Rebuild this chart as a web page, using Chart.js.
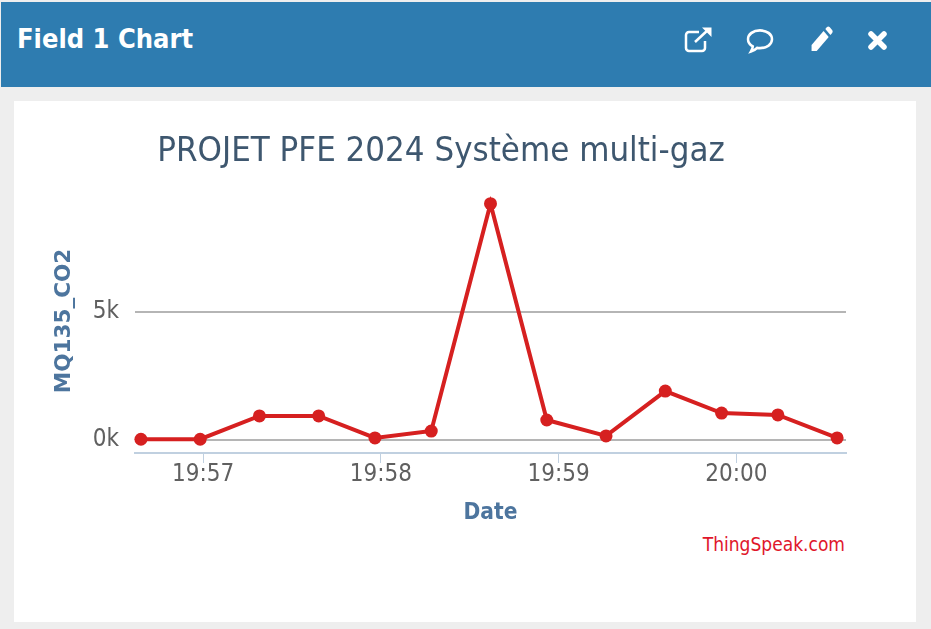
<!DOCTYPE html>
<html>
<head>
<meta charset="utf-8">
<title>Field 1 Chart</title>
<script src="https://cdn.jsdelivr.net/npm/chart.js@4"></script>
<style>
  html, body { margin: 0; padding: 0; }
  body { width: 931px; height: 629px; background: #eeeeee; position: relative; overflow: hidden; }
  .cabecera { position: absolute; left: 1px; top: 2px; width: 930px; height: 85px; background: #2e7cb0; }
  .cabecera h3 { position: absolute; left: 16px; top: 20px; margin: 0; color: #fff; font: bold 27px "DejaVu Sans Condensed", sans-serif; line-height: 34px; }
  .cabecera svg { position: absolute; top: 24px; }
  .tarjeta { position: absolute; left: 14px; top: 101px; width: 902px; height: 521px; background: #fff; }
  .grafico { position: absolute; left: 0; top: 0; width: 854px; height: 426px; }
  .credito { position: absolute; right: 71px; top: 433px; color: #e0162b; font: 19px "DejaVu Sans Condensed", sans-serif; line-height: 20px; }
</style>
</head>
<body>
<div class="cabecera">
  <h3>Field 1 Chart</h3>
  <svg style="left:682px" width="32" height="28" viewBox="0 0 32 28" fill="none" stroke="#fff" stroke-width="2.500">
    <path d="M16 6H6a3 3 0 0 0-3 3v13a3 3 0 0 0 3 3h13a3 3 0 0 0 3-3v-7"/>
    <path d="M12 16L26 3"/>
    <path d="M19 1.500h9.500v9.500z" fill="#fff" stroke="none"/>
  </svg>
  <svg style="left:744px" width="32" height="31" viewBox="0 0 32 28" preserveAspectRatio="none" fill="none" stroke="#fff" stroke-width="2.500">
    <path d="M15 4c7 0 12 3.500 12 8s-5 8-12 8c-1 0-2 0-3-.2-2 1.800-4 2.700-6 3.200 1-1.500 1.700-3 1.800-4.600C5 17 3 14.700 3 12c0-4.500 5-8 12-8z"/>
  </svg>
  <svg style="left:808px" width="24" height="28" viewBox="0 0 28 28" preserveAspectRatio="none" fill="#fff">
    <path d="M3 19L17 5l6 6L9 25H3z"/>
    <path d="M19 3l2-2c1-.8 2-.8 3 0l3 3c.8 1 .8 2 0 3l-2 2z"/>
  </svg>
  <svg style="left:866px" width="22" height="28" viewBox="0 0 22 28" fill="none" stroke="#fff" stroke-width="5.500" stroke-linecap="round">
    <path d="M4 8l13 13M17 8L4 21"/>
  </svg>
</div>
<div class="tarjeta">
  <div class="grafico"><canvas id="graficoCampo"></canvas></div>
  <div class="credito">ThingSpeak.com</div>
</div>
<script>
const titulo = 'PROJET PFE 2024 Système multi-gaz';
const tituloY = 'MQ135_CO2';
const tituloX = 'Date';

const horas = ['19:56:39', '19:56:59', '19:57:19', '19:57:39', '19:57:58', '19:58:17', '19:58:37',
  '19:58:56', '19:59:16', '19:59:36', '19:59:55', '20:00:14', '20:00:34'];
const valores = [30, 30, 940, 940, 80, 350, 9230, 780, 160, 1910, 1050, 980, 80];

const ticksX = ['19:57', '19:58', '19:59', '20:00'];
const ticksY = [0, 5000];
const etiquetasY = ['0k', '5k'];

const inicioX = '19:56:37';
const finX = '20:00:37';
const minY = -508;
const maxY = 9805;

// Pasa "hh:mm" o "hh:mm:ss" a segundos
function segundos(hora) {
  const p = hora.split(':').map(Number);
  return p[0] * 3600 + p[1] * 60 + (p[2] || 0);
}

const fuente = '"DejaVu Sans Condensed", "DejaVu Sans", sans-serif';
const ctx = document.getElementById('graficoCampo').getContext('2d');
new Chart(ctx, {
  type: 'line',
  data: {
    datasets: [{
      data: horas.map((h, i) => ({ x: segundos(h), y: valores[i] })),
      borderColor: '#d62020',
      backgroundColor: '#d62020',
      borderWidth: 4,
      pointRadius: 6.500,
      pointBorderWidth: 0,
      tension: 0,
      clip: false
    }]
  },
  options: {
    responsive: true,
    maintainAspectRatio: false,
    animation: false,
    layout: { padding: { left: 22, right: 22, top: 0, bottom: 0 } },
    plugins: {
      legend: { display: false },
      tooltip: { enabled: false },
      title: {
        display: true,
        text: titulo,
        color: '#3e576f',
        font: { family: fuente, size: 34.500, weight: 'normal', lineHeight: 1.2 },
        padding: { top: 30, bottom: 16.600 }
      }
    },
    scales: {
      x: {
        type: 'linear',
        min: segundos(inicioX),
        max: segundos(finX),
        afterBuildTicks: axis => { axis.ticks = ticksX.map(t => ({ value: segundos(t) })); },
        afterFit: axis => { axis.height = 74; },
        ticks: {
          color: '#606060',
          font: { family: fuente, size: 24 },
          padding: -3,
          maxRotation: 0,
          autoSkip: false,
          callback: v => ticksX.find(t => segundos(t) === v)
        },
        grid: { drawOnChartArea: false, tickLength: 10, tickColor: '#c0d0e0', tickWidth: 1 },
        border: { color: '#c0d0e0', width: 2 },
        title: {
          display: true,
          text: tituloX,
          color: '#4d759e',
          font: { family: fuente, size: 22.500, weight: 'bold' },
          padding: 0
        }
      },
      y: {
        min: minY,
        max: maxY,
        afterBuildTicks: axis => { axis.ticks = ticksY.map(v => ({ value: v })); },
        afterFit: axis => { axis.width = 99; },
        ticks: {
          color: '#606060',
          font: { family: fuente, size: 24 },
          padding: 16,
          callback: v => etiquetasY[ticksY.indexOf(v)]
        },
        grid: { color: '#b5b5b5', lineWidth: 2, drawTicks: false },
        border: { display: false },
        title: {
          display: true,
          text: tituloY,
          color: '#4d759e',
          font: { family: '"DejaVu Sans", sans-serif', size: 21.500, weight: 'bold' },
          padding: { top: 16, bottom: 0 }
        }
      }
    }
  }
});
</script>
</body>
</html>
